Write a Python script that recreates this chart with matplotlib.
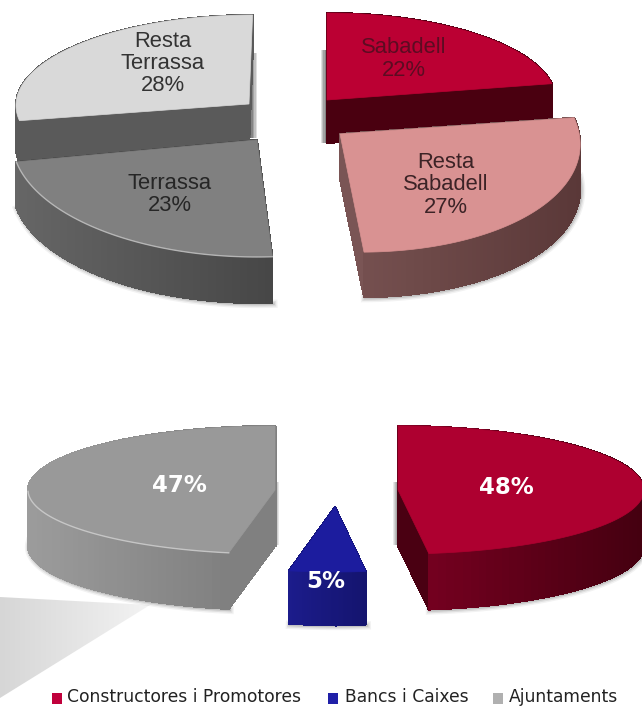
import numpy as np
import matplotlib
matplotlib.use("Agg")
import matplotlib.pyplot as plt
from matplotlib.collections import PolyCollection
from matplotlib.patches import Polygon, Rectangle
from matplotlib.colors import to_rgb

# top pie
TOP_LABELS = ["Sabadell\n22%", "Resta\nSabadell\n27%", "Terrassa\n23%", "Resta\nTerrassa\n28%"]
TOP_VALUES = [22, 27, 23, 28]
TOP_FACES = ["#bb0033", "#d99292", "#808080", "#d9d9d9"]
TOP_SIDES = [("#4c0012", "#4c0012"), ("#75504f", "#5a3838"), ("#666666", "#474747"), ("#5a5a5a", "#5a5a5a")]
TOP_CUTS = ["#4a0010", "#7a5555", "#4f4f4f", "#5a5a5a"]
TOP_TEXT = ["#5c0c22", "#3c2326", "#262626", "#333333"]

# bottom pie
BOTTOM_LABELS = ["48%", "5%", "47%"]
BOTTOM_VALUES = [48, 5, 47]
BOTTOM_FACES = ["#ae0030", "#1c1c9e", "#999999"]
BOTTOM_SIDES = [("#7c0022", "#440010"), ("#1c1c8c", "#14146e"), ("#9c9c9c", "#7a7a7a")]
BOTTOM_CUTS = ["#4a0012", "#15157a", "#808080"]

LEGEND_NAMES = ["Constructores i Promotores", "Bancs i Caixes", "Ajuntaments"]
LEGEND_COLORS = ["#c0003c", "#2020a8", "#b0b0b0"]

# centre x, centre y, rx, ry, depth, x skew, y skew
TOP_SHAPES = [
    (327, 100, 229, 87, 43, 0, 0),
    (340, 134, 240, 118, 45, 0.076, 0.025),
    (257, 140, 245, 117, 46, 0, 0),
    (249, 104, 233, 89, 42, -0.04, 0),
]
BOTTOM_SHAPES = [
    (398, 490, 246, 64, 56, 0, 0),
    (335, 507, 246, 65, 53, 0, 0),
    (275, 490, 247, 64, 56, 0, 0),
]
TOP_LABEL_POS = [(404, 59), (446, 185), (170, 194.5), (163, 63.5)]
BOTTOM_LABEL_POS = [(506, 488), (326, 581), (179, 485)]
LEGEND_SWATCH_X = [52, 328, 493]
LEGEND_TEXT_X = [67, 345, 509]


def slice_outline(shape, start, value):
    cx, cy, rx, ry, _, skew_x, skew_y = shape
    t = np.radians(np.linspace(start, start + value, 90) * 3.6)
    dx = rx * np.sin(t)
    dy = -ry * np.cos(t)
    return cx + dx + skew_x * dy, cy + dy + skew_y * dx


def draw_slice(ax, shape, start, value, face, side, cut, rim=False, soft=True):
    cx, cy, rx, ry, depth, _, _ = shape
    xs, ys = slice_outline(shape, start, value)
    left, right = to_rgb(side[0]), to_rgb(side[1])
    span = max(xs.max() - xs.min(), 1)

    # extruded side walls, sorted back to front
    walls = []
    for i in range(len(xs) - 1):
        frac = (xs[i] - xs.min()) / span
        colour = tuple((1 - frac) * a + frac * b for a, b in zip(left, right))
        quad = [(xs[i], ys[i]), (xs[i + 1], ys[i + 1]), (xs[i + 1], ys[i + 1] + depth), (xs[i], ys[i] + depth)]
        walls.append((ys[i], quad, colour))
    for ex, ey in [(xs[0], ys[0]), (xs[-1], ys[-1])]:
        quad = [(cx, cy), (ex, ey), (ex, ey + depth), (cx, cy + depth)]
        walls.append(((cy + ey) / 2, quad, to_rgb(cut)))
    walls.sort(key=lambda w: w[0])

    if soft:
        # soft drop shadow along the bottom edge
        front = ys > cy - 5
        for lw, alpha in [(6, 0.05), (4, 0.08), (2, 0.12)]:
            ax.plot(xs[front] + 1, ys[front] + depth + 1, color="black", lw=lw, alpha=alpha, zorder=2)

    quads = [w[1] for w in walls]
    colours = [w[2] for w in walls]
    ax.add_collection(PolyCollection(quads, facecolors=colours, edgecolors=colours, linewidths=0.8,
                                     antialiaseds=False, zorder=2))

    top = np.column_stack([np.r_[cx, xs], np.r_[cy, ys]])
    ax.add_patch(Polygon(top, closed=True, facecolor=face, edgecolor=face, lw=0.5, zorder=2))

    if rim:
        front = ys > cy
        ax.plot(xs[front], ys[front], color="white", lw=1.0, alpha=0.45, zorder=2)


def side_shadow(ax, x0, x1, y0, y1, colour="#555555"):
    # darker strip next to a hidden wall, fading outward
    steps = 5
    edges = np.linspace(x0, x1, steps + 1)
    for i in range(steps):
        alpha = 0.9 * (1 - i / steps)
        ax.add_patch(Rectangle((edges[i], y0), edges[i + 1] - edges[i], y1 - y0,
                               facecolor=colour, edgecolor="none", alpha=alpha, zorder=1))


def floor_glow(ax):
    # pale wedge on the floor at the lower left
    poly = Polygon([(0, 597), (150, 605), (0, 698)], closed=True, facecolor="none", edgecolor="none")
    ax.add_patch(poly)
    fade = np.ones((2, 160, 4))
    fade[..., :3] = 0.84
    fade[..., 3] = np.linspace(1.0, 0.25, 160)
    img = ax.imshow(fade, extent=(0, 160, 700, 595), aspect="auto", zorder=0, interpolation="bilinear")
    img.set_clip_path(poly)


fig = plt.figure(figsize=(6.42, 7.06), dpi=100)
ax = fig.add_axes([0, 0, 1, 1])

floor_glow(ax)
ax.set_xlim(0, 642)
ax.set_ylim(706, 0)
ax.axis("off")

side_shadow(ax, 250, 257, 53, 138)
side_shadow(ax, 327, 321, 50, 143)
side_shadow(ax, 275, 279, 482, 545, "#777777")
side_shadow(ax, 398, 393, 482, 545, "#888888")

# the pies start at twelve o'clock and run clockwise
top_starts = np.r_[0, np.cumsum(TOP_VALUES)[:-1]]
for i in [3, 2, 0, 1]:
    draw_slice(ax, TOP_SHAPES[i], top_starts[i], TOP_VALUES[i], TOP_FACES[i], TOP_SIDES[i],
               TOP_CUTS[i], rim=i == 2, soft=i in (1, 2))
    ax.text(*TOP_LABEL_POS[i], TOP_LABELS[i], ha="center", va="center", color=TOP_TEXT[i],
            fontsize=15.8, family="Liberation Sans", linespacing=1.08, zorder=3)

bottom_starts = np.r_[0, np.cumsum(BOTTOM_VALUES)[:-1]]
for i in range(3):
    draw_slice(ax, BOTTOM_SHAPES[i], bottom_starts[i], BOTTOM_VALUES[i], BOTTOM_FACES[i],
               BOTTOM_SIDES[i], BOTTOM_CUTS[i], rim=i == 2)
    ax.text(*BOTTOM_LABEL_POS[i], BOTTOM_LABELS[i], ha="center", va="center", color="white",
            fontsize=16.5, fontweight="bold", family="DejaVu Sans", zorder=3)

for name, colour, sx, tx in zip(LEGEND_NAMES, LEGEND_COLORS, LEGEND_SWATCH_X, LEGEND_TEXT_X):
    ax.add_patch(Rectangle((sx, 693), 10, 11, facecolor=colour, edgecolor="none", zorder=3))
    ax.text(tx, 697, name, ha="left", va="center", color="#222222", fontsize=12.3,
            family="DejaVu Sans", zorder=3)

fig.savefig("out.png", dpi=100)
